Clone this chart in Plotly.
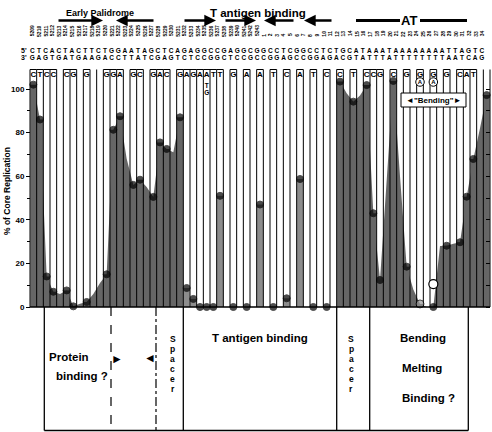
import plotly.graph_objects as go

# ---------------- data ----------------
pos_labels = [str(n) for n in range(5209, 5244)] + [str(n) for n in range(1, 35)]
seq_top = "CTCACTACTTCTGGAATAGCTCAGAGGCCGAGGCGGCCTCGGCCTCTGCATAAATAAAAAAAATTAGTC"
seq_bottom = "GAGTGATGAAGACCTTATCGAGTCTCCGGCTCCGCCGGAGCCGGAGACGTATTTATTTTTTTTAATCAG"

mutant_base = ["C", "T", "C", "C", "", "C", "G", "", "G", "", "", "G", "G", "A", "",
               "G", "C", "", "G", "A", "C", "", "G", "A", "G", "A", "A", "T", "T", "",
               "G", "", "A", "", "A", "", "T", "", "C", "", "A", "", "T", "", "C", "",
               "C", "", "T", "", "C", "C", "G", "", "C", "", "G", "", "G", "", "G", "",
               "G", "", "C", "A", "T", "", ""]

replication = [102, 86, 14, 7, None, 7.6, 0.3, None, 2.3, None, None, 15, 81.3, 87.5, None,
               56, 58.4, None, 50.5, 75.5, 72.5, None, 87, 8.7, 3.7, 0, 0, 0, 51, None,
               0, None, 0, None, 47, None, 0, None, 4, None, 58.7, None, 0, None, 0, None,
               103.4, None, 94.2, None, 101.8, 43, 12.4, None, 103.7, None, 18.5, None, 1.4, None,
               0, None, 28.1, None, 29.7, 50.6, 67.9, None, 97.2]

shaded = [102, 86, 14, 7, 6, 7.6, 0.3, 1.5, 2.3, 6, 11, 15, 81.3, 87.5, 68,
          56, 58.4, 55, 50.5, 75.5, 72.5, 71, 87, None, None, None, None, None, None, None,
          None, None, None, None, None, None, None, None, None, None, None, None, None, None, None, None,
          103.4, 98, 94.2, 97, 101.8, 43, 12.4, 58, 103.7, 60, 18.5, 8, 1.4, 0,
          0, 28, 28.1, 29, 29.7, 50.6, 67.9, 82, 97.2]

extra_base_pos = [26, 26]
extra_base = ["T", "G"]
circled_pos = [58, 60]
circled_base = ["A", "A"]
open_pos = [60]
open_val = [10.5]
gray_pos = [58]
yticks = [0, 20, 40, 60, 80, 100]
yminor = [10, 30, 50, 70, 90]
right_ticks = [0, 10, 20, 30, 40, 50, 60, 70, 80, 90, 100]

# ---------------- geometry helpers (layout only) ----------------
W, H = 492, 432
X0, DX = 30.0, 460 / 69
Y0, DY = 307.0, 2.18
S0, DS = 32.3, 6.61


def xd(px):
    return (px - X0) / DX - 0.5


def yd(py):
    return (Y0 - py) / DY


FONT = "Liberation Sans, Arial, Helvetica, sans-serif"
n = len(replication)
idx = list(range(n))
tested = [i for i in idx if replication[i] is not None]

fig = go.Figure()

# bars
bar_colors = ["#666666" if shaded[i] is not None else "#8d8d8d" for i in tested]
fig.add_bar(x=tested, y=[replication[i] for i in tested], width=0.92,
            marker=dict(color=bar_colors, line=dict(width=0)), hoverinfo="skip")

# shaded areas
runs, cur = [], []
for i in idx:
    if shaded[i] is None:
        if cur:
            runs.append(cur)
        cur = []
    else:
        cur.append(i)
if cur:
    runs.append(cur)
for r in runs:
    fig.add_scatter(x=r, y=[shaded[i] for i in r], mode="lines", fill="tozeroy",
                    fillcolor="#666666", line=dict(width=0, color="#666666"), hoverinfo="skip")

# column boundary lines
top = yd(69.5)
gx, gy = [], []
for k in range(n + 1):
    gx += [k - 0.5, k - 0.5, None]
    gy += [0, top, None]
fig.add_scatter(x=gx, y=gy, mode="lines", line=dict(color="black", width=1), hoverinfo="skip")

# box tops over mutated columns
bx, by = [], []
for i in idx:
    if mutant_base[i]:
        bx += [i - 0.5, i + 0.5, None]
        by += [top, top, None]
fig.add_scatter(x=bx, y=by, mode="lines", line=dict(color="black", width=1), hoverinfo="skip")

# mutant base letters
mi = [i for i in idx if mutant_base[i]]
fig.add_scatter(x=mi, y=[yd(74.5)] * len(mi), mode="text", text=[mutant_base[i] for i in mi],
                textfont=dict(family=FONT, size=8, color="black", weight="bold"), hoverinfo="skip")
fig.add_scatter(x=extra_base_pos, y=[yd(86.5), yd(93)], mode="text", text=extra_base,
                textfont=dict(family=FONT, size=6.5, color="black", weight="bold"), hoverinfo="skip")
fig.add_scatter(x=circled_pos, y=[yd(82)] * len(circled_pos), mode="markers+text", text=circled_base,
                textposition="middle center",
                marker=dict(symbol="circle", size=8.5, color="white", line=dict(color="black", width=1)),
                textfont=dict(family=FONT, size=6, color="black", weight="bold"), hoverinfo="skip")

# data dots
dot_colors = ["#9a9a9a" if i in gray_pos else "black" for i in tested]
dot_sizes = [8 if i in gray_pos else 7 for i in tested]
fig.add_scatter(x=tested, y=[replication[i] for i in tested], mode="markers",
                marker=dict(color=dot_colors, size=dot_sizes, line=dict(color="black", width=1)),
                hoverinfo="skip")
fig.add_scatter(x=open_pos, y=open_val, mode="markers",
                marker=dict(color="white", size=9, line=dict(color="black", width=1.2)), hoverinfo="skip")

# sequence rows (own axis)
fig.add_scatter(x=idx, y=[yd(51.5)] * n, mode="text", text=list(seq_top), xaxis="x2",
                textfont=dict(family=FONT, size=6.5, color="black", weight="bold"), hoverinfo="skip")
fig.add_scatter(x=idx, y=[yd(58)] * n, mode="text", text=list(seq_bottom), xaxis="x2",
                textfont=dict(family=FONT, size=6.5, color="black", weight="bold"), hoverinfo="skip")
fig.add_scatter(x=[], y=[], yaxis="y2", hoverinfo="skip")

ann = []
for i, lab in enumerate(pos_labels):
    ann.append(dict(x=i, y=yd(37.5), xref="x2", yref="y", text=lab, textangle=-90,
                    showarrow=False, yanchor="bottom", xanchor="center", borderpad=0,
                    font=dict(family=FONT, size=5, color="black", weight="bold")))


def txt(px, py, s, size, bold=True, xanchor="center", angle=0, pad=1):
    ann.append(dict(x=xd(px), y=yd(py), xref="x", yref="y", text=s, showarrow=False,
                    xanchor=xanchor, yanchor="middle", textangle=angle, borderpad=pad,
                    font=dict(family=FONT, size=size, color="black",
                              weight="bold" if bold else "normal")))


def arrow(tail, head, py):
    ann.append(dict(x=xd(head), y=yd(py), ax=xd(tail), ay=yd(py), xref="x", yref="y",
                    axref="x", ayref="y", text="", showarrow=True, arrowhead=2,
                    arrowsize=0.9, arrowwidth=2.6, arrowcolor="black"))


txt(100, 12.5, "Early Palidrome", 9)
txt(258, 12.5, "T antigen binding", 11.5)
txt(409, 20.5, "AT", 13)
arrow(57, 103, 20.5)
arrow(155, 116, 20.5)
arrow(183, 216, 20.5)
arrow(224, 256, 20.5)
arrow(295, 264, 20.5)
arrow(333, 304, 20.5)
txt(24, 50.5, "5'", 7)
txt(24, 57.5, "3'", 7)
txt(7, 191, "% of Core Replication", 8.5, angle=-90)

# lower panel texts
txt(47, 357, "Protein", 11.5, xanchor="left")
txt(54, 376, "binding ?", 11.5, xanchor="left")
txt(210, 338, "T antigen binding", 11.5, xanchor="left")
txt(398, 338, "Bending", 11.5, xanchor="left")
txt(400, 368, "Melting", 11.5, xanchor="left")
txt(400, 398, "Binding ?", 11.5, xanchor="left")
for j, ch in enumerate("Spacer"):
    txt(172.5, 339 + 10 * j, ch, 8.5, pad=0)
    txt(351, 339 + 10 * j, ch, 8.5, pad=0)
txt(117, 359, "►", 12, bold=False)
txt(150, 358, "◄", 12, bold=False)
txt(433, 100, "◄\"Bending\"►", 8)

# shapes: baseline, lower panel frame, bending box, AT bars
shapes = [dict(type="line", x0=-0.5, x1=n - 0.5, y0=0, y1=0, xref="x", yref="y",
               line=dict(color="black", width=1.5))]
ybot = yd(430.5)
for px in [44.3, 183.3, 336.7, 369.7, 468.3]:
    shapes.append(dict(type="line", x0=xd(px), x1=xd(px), y0=0, y1=ybot, xref="x", yref="y",
                       line=dict(color="black", width=1.3)))
shapes.append(dict(type="line", x0=xd(111), x1=xd(111), y0=0, y1=ybot, xref="x", yref="y",
                   line=dict(color="black", width=1.2, dash="dash")))
shapes.append(dict(type="line", x0=xd(156), x1=xd(156), y0=0, y1=ybot, xref="x", yref="y",
                   line=dict(color="black", width=1.2, dash="dashdot")))
shapes.append(dict(type="line", x0=xd(44.3), x1=xd(468.3), y0=ybot, y1=ybot, xref="x", yref="y",
                   line=dict(color="black", width=1.3)))
shapes.append(dict(type="rect", x0=xd(401), x1=xd(466), y0=yd(107), y1=yd(93), xref="x", yref="y",
                   fillcolor="white", line=dict(color="black", width=1)))
shapes.append(dict(type="line", x0=xd(356), x1=xd(400), y0=yd(20.5), y1=yd(20.5), xref="x", yref="y",
                   line=dict(color="black", width=3)))
shapes.append(dict(type="line", x0=xd(420), x1=xd(467), y0=yd(20.5), y1=yd(20.5), xref="x", yref="y",
                   line=dict(color="black", width=3)))

fig.update_layout(
    width=W, height=H, margin=dict(l=0, r=0, t=0, b=0),
    paper_bgcolor="white", plot_bgcolor="white", showlegend=False,
    xaxis=dict(range=[xd(0), xd(W)], visible=False, domain=[0, 1]),
    xaxis2=dict(range=[(0 - S0) / DS, (W - S0) / DS], overlaying="x", visible=False),
    yaxis=dict(range=[yd(H), yd(0)], anchor="free", position=X0 / W, tickvals=yticks,
               ticks="outside", ticklen=4, tickwidth=1.2, tickcolor="black",
               showgrid=False, zeroline=False, showline=False,
               tickfont=dict(family=FONT, size=8, color="black", weight="bold"),
               minor=dict(tickvals=yminor, ticks="outside", ticklen=3, tickcolor="black",
                          showgrid=False)),
    yaxis2=dict(range=[yd(H), yd(0)], overlaying="y", anchor="free", position=490 / W,
                side="right", tickvals=right_ticks, ticks="inside", ticklen=4,
                tickcolor="black", showticklabels=False, showgrid=False, zeroline=False,
                showline=False),
    annotations=ann, shapes=shapes,
)

fig.write_html("out.html")
